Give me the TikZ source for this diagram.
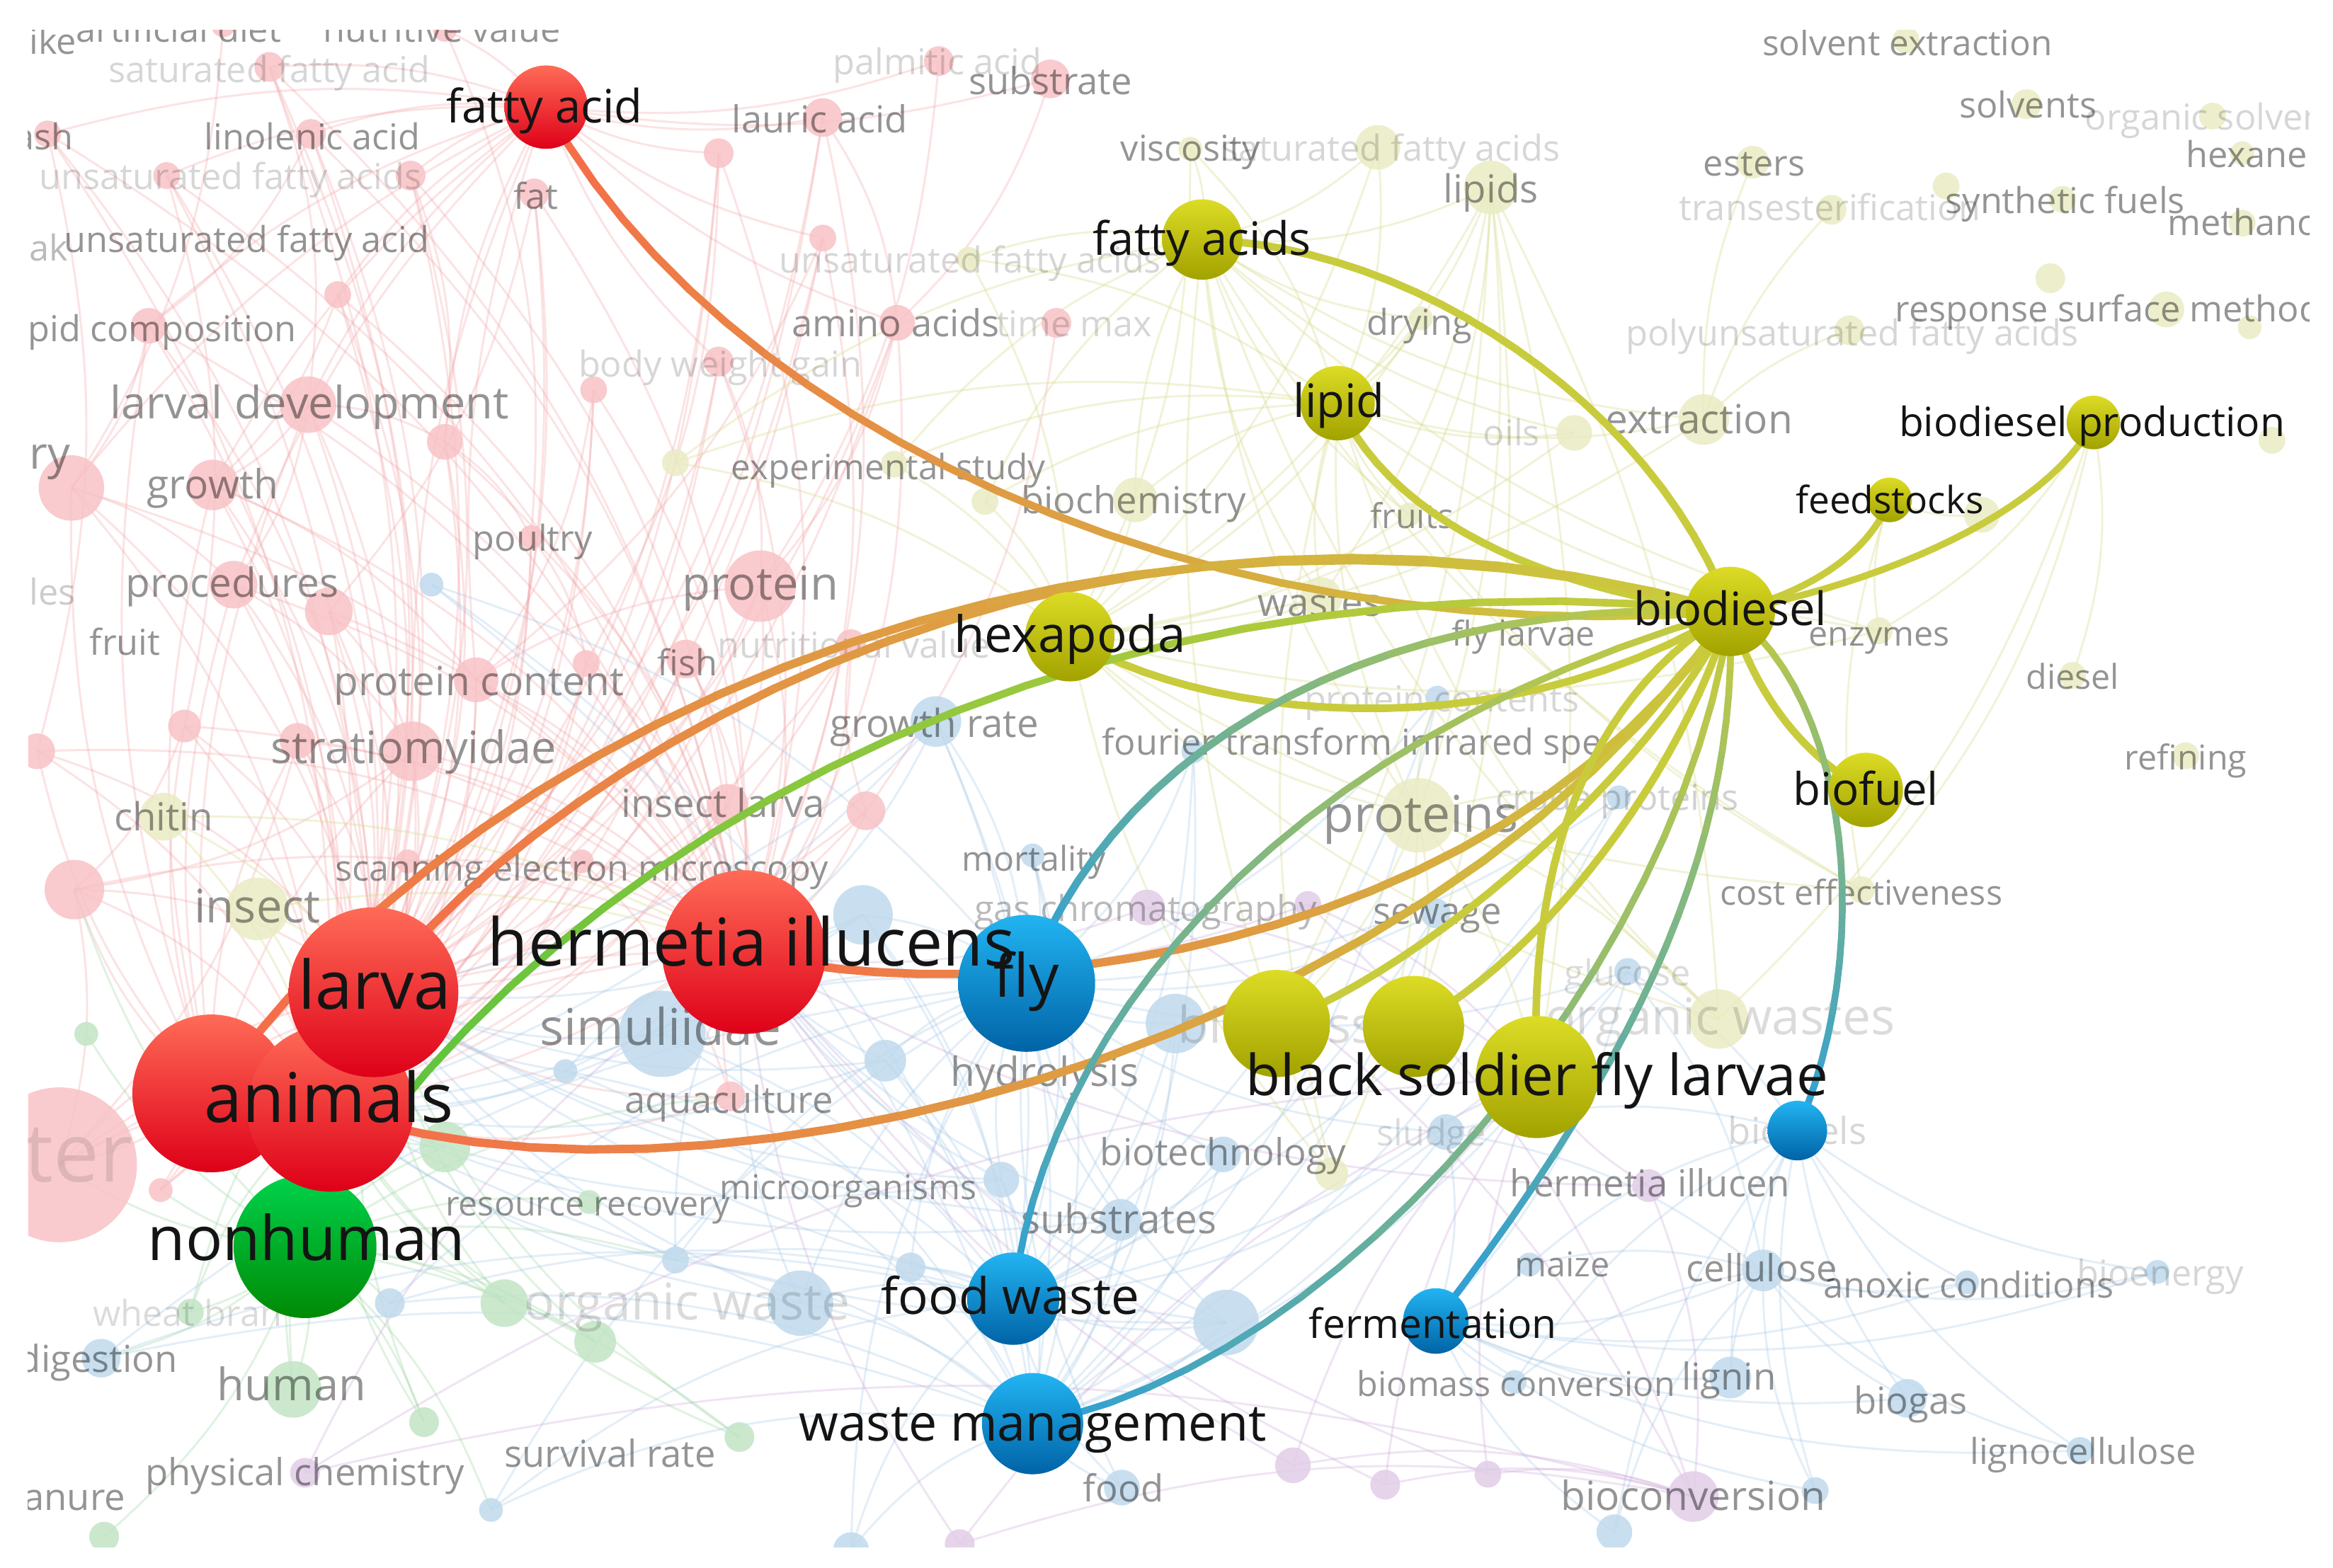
\documentclass[tikz,border=0pt]{standalone}
\usepackage{fontspec}
\setmainfont{Open Sans}
\pgfdeclarelayer{bgl}\pgfdeclarelayer{bgn}\pgfdeclarelayer{bgt}\pgfdeclarelayer{edges}\pgfdeclarelayer{fg}
\pgfsetlayers{bgl,bgn,bgt,edges,main,fg}
\definecolor{nR1}{HTML}{FF6B57}\definecolor{nR2}{HTML}{DE0018}
\definecolor{nY1}{HTML}{DCDC26}\definecolor{nY2}{HTML}{A2A200}
\definecolor{nB1}{HTML}{22B4F2}\definecolor{nB2}{HTML}{0063A6}
\definecolor{nG1}{HTML}{00D24C}\definecolor{nG2}{HTML}{008A05}
\definecolor{eR}{HTML}{F7694A}\definecolor{eY}{HTML}{C8CC3C}
\definecolor{eG}{HTML}{4EC23E}\definecolor{eB}{HTML}{2C9ED8}
\definecolor{cP}{HTML}{F8C3C6}\definecolor{cB}{HTML}{C0DAED}
\definecolor{cY}{HTML}{EAECC4}\definecolor{cG}{HTML}{C2E5C5}
\definecolor{cV}{HTML}{E2CDE8}
\definecolor{lP}{HTML}{F3A3A6}\definecolor{lB}{HTML}{9CC3E4}
\definecolor{lY}{HTML}{D9DC8E}\definecolor{lG}{HTML}{99D49E}
\definecolor{lV}{HTML}{CDA6D8}
\tikzset{
  hub/.style={circle,inner sep=0pt,minimum size={#1*0.02cm}},
  rednode/.style={top color=nR1,bottom color=nR2},
  ylwnode/.style={top color=nY1,bottom color=nY2},
  blunode/.style={top color=nB1,bottom color=nB2},
  grnnode/.style={top color=nG1,bottom color=nG2},
  hlab/.style={anchor=mid,inner sep=0pt,text=black!92,font=\fontsize{#1}{#1}\selectfont},
  fcirc/.style={circle,inner sep=0pt,minimum size={#1*0.02cm},draw=none,fill opacity=0.85},
  lnP/.style={draw=lP,line width=0.4pt,draw opacity=0.3},
  lnB/.style={draw=lB,line width=0.4pt,draw opacity=0.28},
  lnY/.style={draw=lY,line width=0.4pt,draw opacity=0.35},
  lnG/.style={draw=lG,line width=0.4pt,draw opacity=0.3},
  lnV/.style={draw=lV,line width=0.4pt,draw opacity=0.3},
}
% gradient edge: from, c1x, c1y, c2x, c2y, to, colour at start, colour at end, width
\newcommand\gedge[9]{%
  \foreach \k in {1,...,24}{%
    \pgfmathsetmacro\ta{(\k-1)/24}%
    \pgfmathsetmacro\tb{\k/24}%
    \pgfmathtruncatemacro\pc{round(100*(\k-0.5)/24)}%
    \colorlet{segc}{#8!\pc!#7}%
    \begin{pgfscope}%
    \pgfsetstrokecolor{segc}%
    \pgfsetlinewidth{#9}%
    \pgfsetroundcap%
    \pgfpathmoveto{\pgfpointcurveattime{\ta}{\pgfpointanchor{#1}{center}}{\pgfpointxy{#2}{#3}}{\pgfpointxy{#4}{#5}}{\pgfpointanchor{#6}{center}}}%
    \pgfpathlineto{\pgfpointcurveattime{\tb}{\pgfpointanchor{#1}{center}}{\pgfpointxy{#2}{#3}}{\pgfpointxy{#4}{#5}}{\pgfpointanchor{#6}{center}}}%
    \pgfusepath{stroke}%
    \end{pgfscope}}}
\begin{document}
\begin{tikzpicture}[x=0.01cm,y=-0.01cm]
\useasboundingbox (0,0) rectangle (1568,1053.6);
\begin{pgfonlayer}{bgl}
\fill[white] (0,0) rectangle (1568,1053.6);
\end{pgfonlayer}

% ---------- highlighted nodes ----------
\node[hub=48,grnnode] (nonhuman) at (205,838) {};
\node[hub=53,rednode] (animalsL) at (142,735) {};
\node[hub=56,rednode] (animals) at (222,745) {};
\node[hub=57,rednode] (larva) at (251,667) {};
\node[hub=55,rednode] (hermetia) at (500,640) {};
\node[hub=28,rednode] (fattyacid) at (367,72) {};
\node[hub=27,ylwnode] (fattyacids) at (808,161) {};
\node[hub=25,ylwnode] (lipid) at (899,271) {};
\node[hub=30,ylwnode] (biodiesel) at (1163,411) {};
\node[hub=15,ylwnode] (feedstocks) at (1270,336) {};
\node[hub=18,ylwnode] (bdprod) at (1407,284) {};
\node[hub=25,ylwnode] (biofuel) at (1254,531) {};
\node[hub=30,ylwnode] (hexapoda) at (719,428) {};
\node[hub=46,blunode] (fly) at (690,661) {};
\node[hub=36,ylwnode] (bsf1) at (858,688) {};
\node[hub=34,ylwnode] (bsf2) at (950,690) {};
\node[hub=41,ylwnode] (bsf) at (1033,724) {};
\node[hub=20,blunode] (biofuels) at (1208,760) {};
\node[hub=31,blunode] (foodwaste) at (681,873) {};
\node[hub=34,blunode] (wastemgmt) at (694,957) {};
\node[hub=22,blunode] (fermentation) at (965,888) {};

% ---------- faint circles ----------
\begin{pgfonlayer}{bgn}
\begin{scope}
\clip (19,20) rectangle (1552,1040);
\foreach \n/\x/\y/\r in {p1/181/45/10,p2/299/20/8,p3/150/17/8,p4/32/90/9,p5/209/90/10,p6/112/118/9,p7/276/118/10,p8/359/130/10,p9/227/198/9,p10/100/219/12,p11/207/272/19,p12/299/297/12,p13/48/328/22,p14/143/326/17,p15/399/262/9,p16/483/243/10,p17/483/103/10,p18/553/79/13,p19/631/41/10,p20/706/53/13,p21/553/160/9,p22/603/217/12,p23/710/217/10,p24/357/361/8,p25/157/393/16,p26/221/411/16,p27/124/488/11,p28/320/457/15,p29/394/446/9,p30/461/443/13,p31/511/394/24,p32/25/505/12,p33/277/505/20,p34/200/498/12,p35/489/541/14,p36/582/545/13,p37/50/598/20,p38/40/783/52,p39/108/800/8,p40/274/579/8,p41/391/579/8,p42/572/433/10,p49/491/737/10}
  \node[fcirc=\r,fill=cP] (\n) at (\x,\y) {};
\foreach \n/\x/\y/\r in {g1/58/695/8,g2/299/771/17,g3/339/876/16,g4/400/902/14,g5/197/934/19,g6/128/882/9,g7/285/956/10,g8/497/966/10,g9/396/808/8,g10/70/1033/10}
  \node[fcirc=\r,fill=cG] (\n) at (\x,\y) {};
\foreach \n/\x/\y/\r in {b1/290/393/8,b2/629/485/17,b3/445/695/29,b4/380/720/8,b5/580/615/20,b6/595/713/14,b7/790/688/20,b8/673/793/12,b9/538/876/22,b10/753/820/14,b11/822/776/12,b12/824/889/22,b13/454/847/9,b14/262/876/10,b15/68/913/13,b16/330/1015/8,b17/1085/1030/12,b18/1220/1002/9,b19/1185/854/14,b20/1028/850/8,b21/1322/862/8,b22/1450/855/8,b23/1163/926/14,b24/1282/940/13,b25/1398/975/9,b26/1018/929/8,b27/966/469/8,b28/1088/536/8,b29/965/614/10,b30/802/505/8,b31/754/1000/12,b32/972/761/12,b33/694/575/8,b34/1094/653/9,b35/572/1042/12,b40/612/852/10}
  \node[fcirc=\r,fill=cB] (\n) at (\x,\y) {};
\foreach \n/\x/\y/\r in {v1/771/610/12,v2/879/608/9,v3/869/985/12,v4/931/998/10,v5/1000/991/9,v6/1108/797/11,v7/1138/1006/17,v8/205/990/10,v9/645/1038/10}
  \node[fcirc=\r,fill=cV] (\n) at (\x,\y) {};
\foreach \n/\x/\y/\r in {y1/1281/27/9,y2/1362/70/10,y3/1487/78/9,y4/1507/103/8,y5/1178/109/11,y6/1231/141/10,y7/1308/125/9,y8/1386/134/9,y9/1507/150/9,y10/1378/187/10,y11/1456/208/12,y12/1512/220/8,y13/1243/222/10,y14/926/99/15,y15/1002/126/18,y16/651/174/8,y17/800/100/8,y18/955/214/8,y19/1058/291/12,y20/1145/282/17,y21/1332/346/12,y22/1527/296/9,y23/1263/424/9,y24/1393/454/9,y25/1469/508/9,y26/1251/598/9,y27/1155/685/20,y28/953/548/25,y29/888/402/14,y30/454/311/9,y31/601/312/9,y32/662/337/9,y33/763/336/15,y34/947/346/8,y35/110/549/16,y36/173/611/21,y37/895/789/11}
  \node[fcirc=\r,fill=cY] (\n) at (\x,\y) {};
\end{scope}
\end{pgfonlayer}

% ---------- faint labels ----------
\begin{pgfonlayer}{bgt}
\begin{scope}
\clip (19,20) rectangle (1552,1040);
\foreach \t/\x/\y/\s/\o/\a [count=\i] in {
 ike/19/27/24/0.42/mid west, artificial diet/120/19/24/0.42/mid, nutritive value/297/19/24/0.42/mid,
 saturated fatty acid/181/46/24/0.16/mid, ash/50/91/24/0.42/mid east, linolenic acid/210/91/24/0.42/mid,
 unsaturated fatty acids/155/118/24/0.16/mid, fat/360/131/24/0.42/mid, unsaturated fatty acid/166/160/24/0.42/mid,
 ak/19/166/24/0.27/mid west, lipid composition/200/220/24/0.42/mid east, larval development/208/272/30/0.42/mid,
 ry/19/306/30/0.42/mid west, growth/143/326/27/0.42/mid, body weight gain/484/244/24/0.16/mid,
 poultry/358/361/24/0.42/mid, les/19/397/24/0.2/mid west, procedures/156/392/27/0.42/mid,
 fruit/84/431/24/0.42/mid, protein/511/394/31/0.42/mid, fish/462/445/24/0.42/mid,
 nutritional value/574/433/24/0.16/mid, protein content/322/458/27/0.42/mid, stratiomyidae/278/504/30/0.42/mid,
 chitin/110/549/26/0.42/mid, insect larva/486/540/26/0.42/mid, scanning electron microscopy/391/583/24/0.42/mid,
 insect/173/611/31/0.42/mid, growth rate/628/486/26/0.42/mid, amino acids/602/217/25/0.42/mid,
 time max/722/217/24/0.16/mid, lauric acid/551/80/25/0.42/mid, palmitic acid/630/41/24/0.16/mid,
 substrate/706/54/25/0.42/mid, unsaturated fatty acids/652/174/24/0.16/mid, viscosity/800/99/24/0.42/mid,
 saturated fatty acids/935/99/24/0.16/mid, lipids/1002/127/26/0.42/mid, drying/954/216/24/0.42/mid,
 experimental study/597/313/23.5/0.42/mid, biochemistry/762/336/25/0.42/mid, fruits/949/346/23/0.42/mid,
 oils/1016/290/24/0.16/mid, extraction/1142/282/27/0.42/mid, solvent extraction/1282/28/23.5/0.42/mid,
 solvents/1363/70/24/0.42/mid, organic solvents/1492/78/24/0.16/mid, hexane/1510/103/24/0.42/mid,
 esters/1179/109/24/0.42/mid, transesterification/1230/139/24/0.16/mid, synthetic fuels/1388/134/24/0.42/mid,
 methanol/1456/149/24/0.42/mid west, response surface methodology/1273/207/24/0.42/mid west,
 polyunsaturated fatty acids/1245/223/24/0.16/mid, enzymes/1263/425/23/0.42/mid, diesel/1393/454/23/0.42/mid,
 refining/1469/508/23/0.42/mid, cost effectiveness/1251/599/23/0.42/mid, wastes/887/405/26/0.42/mid,
 fly larvae/1024/425/23/0.42/mid, protein contents/969/469/24/0.16/mid,
 fourier transform infrared spe/740/498/24/0.42/mid west, proteins/955/550/34/0.42/mid,
 crude proteins/1087/535/24/0.18/mid, mortality/695/576/23/0.42/mid, gas chromatography/770/610/24/0.27/mid,
 sewage/966/612/25/0.42/mid, glucose/1094/653/24/0.14/mid, organic wastes/1156/686/34/0.14/mid,
 biomass/858/692/34/0.14/mid, simuliidae/444/693/34/0.42/mid, hydrolysis/702/721/27/0.42/mid,
 aquaculture/490/739/25/0.42/mid, biotechnology/822/774/25/0.42/mid, sludge/962/761/24/0.14/mid,
 biofuels/1208/760/25/0.16/mid, hermetia illucen/1109/795/25/0.42/mid, resource recovery/395/808/23/0.42/mid,
 microorganisms/570/797/23/0.42/mid, substrates/752/820/27/0.42/mid, maize/1050/849/23/0.42/mid,
 cellulose/1184/852/25/0.42/mid, anoxic conditions/1323/863/24/0.42/mid, bioenergy/1452/855/24/0.16/mid,
 wheat bran/126/882/24/0.14/mid, digestion/120/913/25/0.42/mid east, organic waste/462/878/34/0.14/mid,
 human/196/932/30/0.42/mid, biomass conversion/1019/929/23/0.42/mid, lignin/1162/925/25/0.42/mid,
 biogas/1284/941/25/0.42/mid, lignocellulose/1400/975/24/0.42/mid, physical chemistry/205/989/25/0.42/mid,
 survival rate/410/977/25/0.42/mid, manure/85/1006/25/0.42/mid east, food/755/1000/25/0.42/mid,
 bioconversion/1138/1006/27/0.42/mid, ter/90/785/55/0.1/mid east}
{\pgfmathsetmacro\fz{\s*0.2845}%
 \node[anchor=\a,inner sep=0pt,text=black,text opacity=\o,font=\fontsize{\fz}{\fz}\selectfont] (fl\i) at (\x,\y) {\t};}
\end{scope}
\end{pgfonlayer}

% ---------- faint links ----------
\begin{pgfonlayer}{bgl}
\begin{scope}
\clip (19,20) rectangle (1552,1040);
\foreach \a in {p1,p4,p5,p6,p7,p8,p9,p10,p11,p12,p13,p14,p15,p16,p17,p18,p21,p22,p24,p25,p26,p27,p28,p29,p30,p31,p32,p33,p34,p35,p36,p37,p38,p39,p40,p41,p42,p49}
  \foreach \h in {larva,animals,hermetia}
    \draw[lnP] (\a.center) to[bend left=18] (\h.center);
\foreach \a in {p10,p13,p25,p27,p32,p37,p38,p39,p34,p33,p11,p14}
  \draw[lnP] (\a.center) to[bend right=14] (animalsL.center);
\foreach \a in {p1,p2,p4,p5,p6,p7,p9,p10,p11,p12,p13,p14,p16,p17,p18,p19,p20,p21,p22,p25,p28,p33}
  \draw[lnP] (fattyacid.center) to[bend right=12] (\a.center);
\foreach \a/\b in {p11/p14,p11/p25,p13/p25,p14/p28,p25/p33,p26/p33,p27/p37,p28/p31,p31/p35,p33/p37,p10/p13,p12/p24,p24/p29,p34/p38,p37/p38,p11/p12,p5/p10,p7/p12,p9/p14,p16/p31,p15/p28,p22/p31,p18/p22,p20/p22,p19/p31,p30/p35,p36/p42,p41/p49,p40/p38,p3/p13,p6/p27,p4/p32,p1/p11,p8/p26,p17/p29,p21/p28,p23/p36,p2/p24}
  \draw[lnP] (\a.center) to[bend left=14] (\b.center);
\foreach \a in {g1,g2,g3,g4,g5,g6,g7,g8,g9,g10,p38,p39,p37,b14,b15,b13,b16,p49}
  \draw[lnG] (nonhuman.center) to[bend left=14] (\a.center);
\foreach \a in {g2,g3,g4,g5,g7,g8,g6}
  \foreach \h in {larva,animals}
    \draw[lnG] (\a.center) to[bend left=16] (\h.center);
\foreach \a in {b1,b2,b3,b4,b5,b6,b7,b8,b9,b10,b11,b12,b13,b14,b15,b16,b27,b28,b29,b30,b31,b32,b33,b34,b35,b40}
  \foreach \h in {fly,foodwaste,wastemgmt}
    \draw[lnB] (\a.center) to[bend left=16] (\h.center);
\foreach \a in {b17,b18,b19,b20,b21,b22,b23,b24,b25,b26,b32,b34}
  \foreach \h in {fermentation,biofuels,b19}
    \draw[lnB] (\a.center) to[bend left=14] (\h.center);
\foreach \a in {b2,b3,b5,b6,b8,b9,b13,b10,b4,b12}
  \foreach \h in {animals,hermetia,larva}
    \draw[lnB] (\a.center) to[bend left=14] (\h.center);
\foreach \a in {y14,y15,y16,y17,y18,y19,y20,y28,y29,y30,y31,y32,y33,y34,y27,y37,y26,y23}
  \foreach \h in {fattyacids,lipid,hexapoda}
    \draw[lnY] (\a.center) to[bend left=14] (\h.center);
\foreach \a in {y28,bsf,bsf2,y29,y27,bsf1,y34}
  \draw[lnY] (y15.center) to[bend left=12] (\a.center);
\foreach \a in {bsf,bsf1,bsf2,y27,y37,b27,b28}
  \draw[lnY] (y28.center) to[bend left=12] (\a.center);
\foreach \a in {y26,y27,y24,y23}
  \draw[lnY] (bdprod.center) to[bend left=14] (\a.center);
\foreach \a in {y21,y23,y26}
  \draw[lnY] (feedstocks.center) to[bend right=14] (\a.center);
\foreach \a in {y5,y6,y13}
  \draw[lnY] (y20.center) to[bend left=12] (\a.center);
\foreach \a in {y35,y36}
  \foreach \h in {larva,animals,hermetia}
    \draw[lnY] (\a.center) to[bend left=14] (\h.center);
\foreach \a in {v1,v2,v3,v4,v5,v6,v8,v9}
  \foreach \h in {v7,bsf,hermetia}
    \draw[lnV] (\a.center) to[bend left=14] (\h.center);
\end{scope}
\end{pgfonlayer}

% ---------- highlighted links (all links of biodiesel) ----------
\begin{pgfonlayer}{edges}
\gedge{fattyacid}{480}{280}{800}{440}{biodiesel}{eR}{eY}{1.45pt}
\gedge{fattyacids}{950}{165}{1110}{270}{biodiesel}{eY}{eY}{1.45pt}
\gedge{lipid}{940}{360}{1060}{400}{biodiesel}{eY}{eY}{1.45pt}
\gedge{feedstocks}{1255}{375}{1210}{400}{biodiesel}{eY}{eY}{1.3pt}
\gedge{bdprod}{1375}{345}{1265}{392}{biodiesel}{eY}{eY}{1.3pt}
\gedge{biofuel}{1215}{510}{1180}{470}{biodiesel}{eY}{eY}{1.45pt}
\gedge{hexapoda}{800}{480}{1000}{510}{biodiesel}{eY}{eY}{1.45pt}
\gedge{nonhuman}{330}{600}{700}{360}{biodiesel}{eG}{eY}{1.45pt}
\gedge{larva}{380}{500}{740}{290}{biodiesel}{eR}{eY}{1.6pt}
\gedge{animalsL}{330}{470}{760}{300}{biodiesel}{eR}{eY}{1.6pt}
\gedge{animals}{450}{830}{950}{720}{biodiesel}{eR}{eY}{1.6pt}
\gedge{hermetia}{650}{680}{1000}{650}{biodiesel}{eR}{eY}{1.6pt}
\gedge{fly}{740}{520}{900}{400}{biodiesel}{eB}{eY}{1.45pt}
\gedge{foodwaste}{700}{700}{850}{500}{biodiesel}{eB}{eY}{1.3pt}
\gedge{wastemgmt}{900}{920}{1130}{650}{biodiesel}{eB}{eY}{1.3pt}
\gedge{fermentation}{1110}{700}{1168}{560}{biodiesel}{eB}{eY}{1.3pt}
\gedge{biofuels}{1260}{640}{1245}{470}{biodiesel}{eB}{eY}{1.3pt}
\gedge{bsf1}{960}{650}{1110}{520}{biodiesel}{eY}{eY}{1.45pt}
\gedge{bsf2}{1040}{640}{1130}{520}{biodiesel}{eY}{eY}{1.45pt}
\gedge{bsf}{1025}{560}{1080}{460}{biodiesel}{eY}{eY}{1.45pt}
\end{pgfonlayer}

% ---------- highlighted labels ----------
\begin{pgfonlayer}{fg}
\node[hlab=8.8] (t-fattyacid) at (366,73) {fatty acid};
\node[hlab=8.8] (t-fattyacids) at (808,162) {fatty acids};
\node[hlab=8.8] (t-lipid) at (900,271) {lipid};
\node[hlab=8.8] (t-biodiesel) at (1163,411) {biodiesel};
\node[hlab=7.2] (t-feedstocks) at (1270,336) {feedstocks};
\node[hlab=7.7] (t-bdprod) at (1406,284) {biodiesel production};
\node[hlab=8.6] (t-biofuel) at (1254,532) {biofuel};
\node[hlab=9.6] (t-hexapoda) at (719,429) {hexapoda};
\node[hlab=12.8] (t-larva) at (252,669) {larva};
\node[hlab=13.1] (t-animals) at (221,745) {animals};
\node[hlab=11.75] (t-nonhuman) at (206,838) {nonhuman};
\node[hlab=12.6] (t-hermetia) at (505,640) {hermetia illucens};
\node[hlab=11.4] (t-fly) at (690,661) {fly};
\node[hlab=10.8] (t-bsf) at (1033,727) {black soldier fly larvae};
\node[hlab=9.6] (t-foodwaste) at (679,874) {food waste};
\node[hlab=9.7] (t-wastemgmt) at (694,959) {waste management};
\node[hlab=7.7] (t-fermentation) at (963,890) {fermentation};
\end{pgfonlayer}
\end{tikzpicture}
\end{document}
